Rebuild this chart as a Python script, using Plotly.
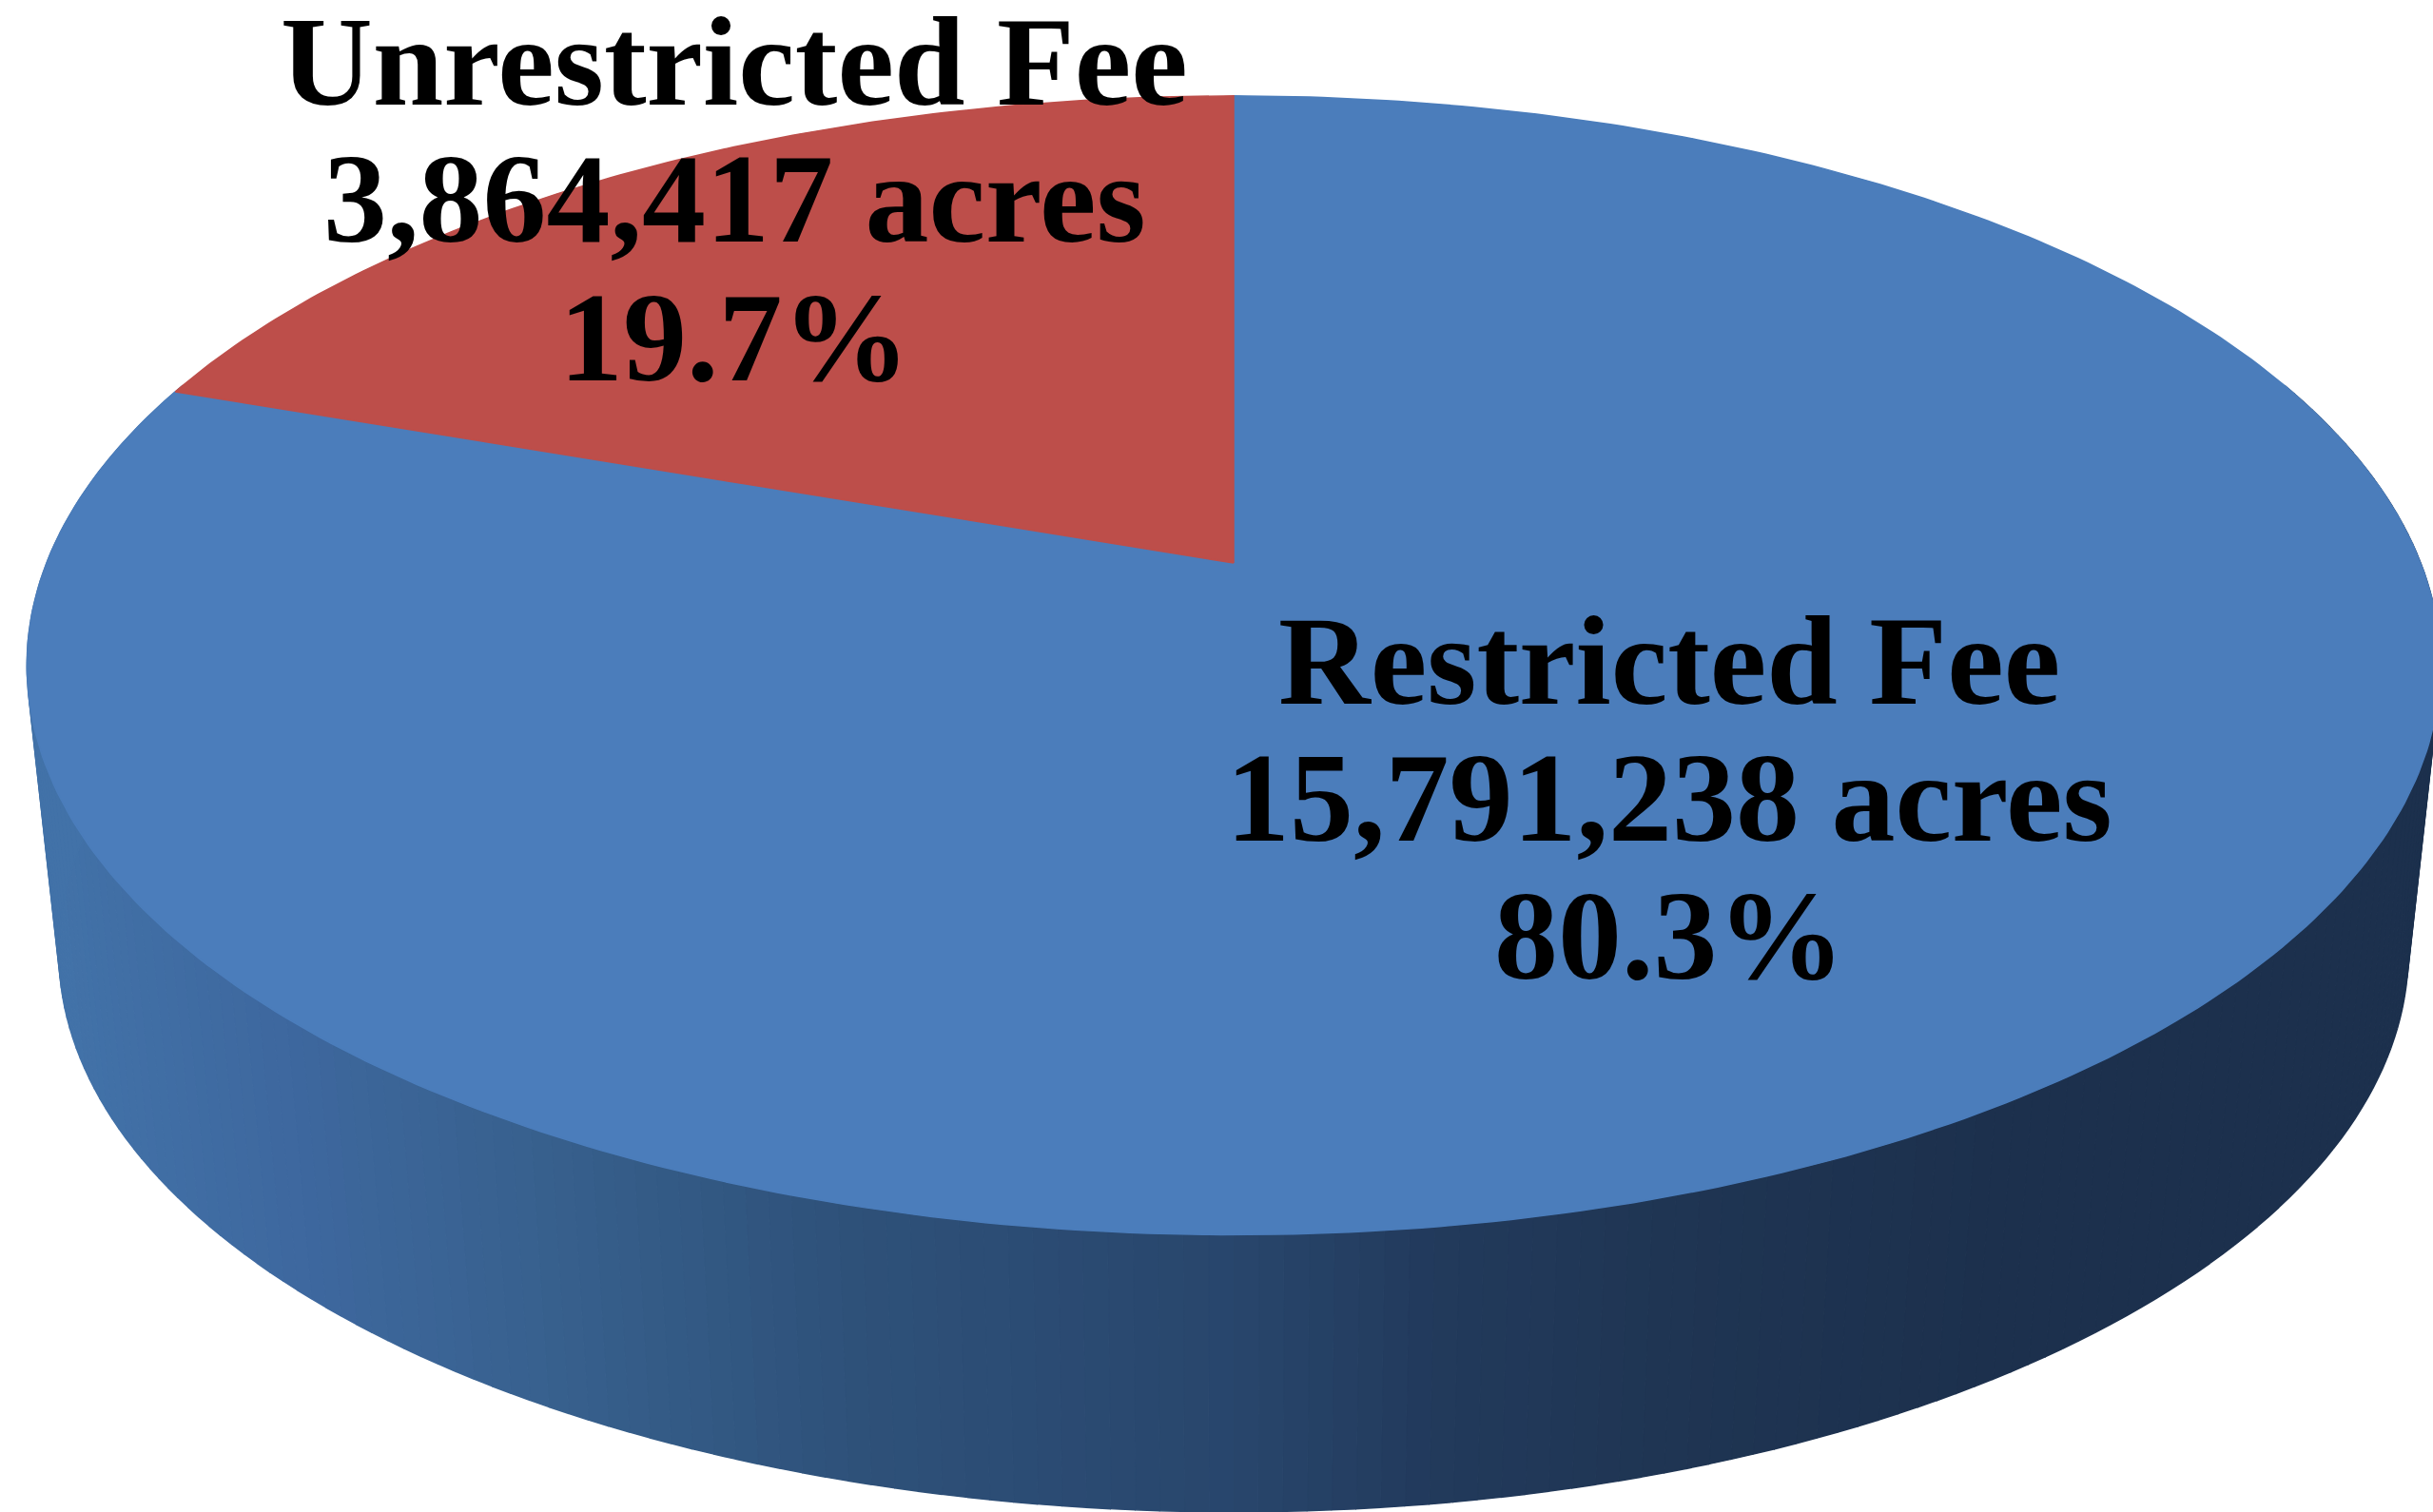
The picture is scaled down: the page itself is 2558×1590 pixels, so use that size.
import numpy as np
import plotly.graph_objects as go

# ---- data ----
categories = ["Restricted Fee", "Unrestricted Fee"]
acres = [15791238, 3864417]
percent_labels = ["80.3%", "19.7%"]
acre_labels = ["15,791,238 acres", "3,864,417 acres"]
slice_colors = ["#4B7DBB", "#BD4E4A"]

# ---- side wall shading, by horizontal page position ----
wall_stop_x = [60, 300, 550, 900, 1100, 1300, 1500, 1750, 2100, 2558]
wall_stop_rgb = [(66, 114, 168), (62, 104, 159), (56, 97, 143), (46, 81, 121), (43, 75, 115),
                 (40, 70, 108), (34, 58, 92), (31, 53, 83), (28, 48, 77), (28, 48, 77)]

W, H = 2558, 1590
CX = 1297
PERSP = 0.1798
TOP = dict(rx=1248, y0=592, a=-473)
LOW = dict(rx=1215, y0=895, a=-409)


def ring(theta, p):
    """theta: clockwise angle from 12 o'clock (radians), projected with perspective."""
    u, v = np.sin(theta), np.cos(theta)
    d = 1 + PERSP * v
    return CX + p["rx"] * u / d, (p["y0"] + p["a"] * v) / d


fig = go.Figure()


def poly(x, y, color):
    fig.add_trace(go.Scatter(x=x, y=y, mode="lines", fill="toself", fillcolor=color,
                             line=dict(color=color, width=1.5), hoverinfo="skip", showlegend=False))


# side wall
edges = np.radians(np.linspace(70, 290, 221))
for t0, t1 in zip(edges[:-1], edges[1:]):
    ts = np.array([t0, t1])
    xt, yt = ring(ts, TOP)
    xl, yl = ring(ts[::-1], LOW)
    xm = float(np.mean(np.r_[xt, xl]))
    rgb = [int(round(np.interp(xm, wall_stop_x, [c[i] for c in wall_stop_rgb]))) for i in range(3)]
    poly(np.r_[xt, xl], np.r_[yt, yl], "rgb(%d,%d,%d)" % tuple(rgb))

# top face, from the values
shares = np.array(acres, dtype=float) / sum(acres)
sweep = shares * 2 * np.pi
cx0, cy0 = CX, TOP["y0"]
t_blue = np.linspace(0, sweep[0], 400)
t_red = np.linspace(sweep[0], 2 * np.pi, 120)
for ts, col in ((t_blue, slice_colors[0]), (t_red, slice_colors[1])):
    x, y = ring(ts, TOP)
    poly(np.r_[cx0, x, cx0], np.r_[cy0, y, cy0], col)

# labels
centres = [1755, 772]
baselines = [[739, 883, 1028], [109, 253, 399]]
FS = 134
for i, c in enumerate(categories):
    lines = [c, acre_labels[i], percent_labels[i]]
    for txt, b in zip(lines, baselines[i]):
        fig.add_annotation(x=centres[i], y=b - FS * 0.33, text=txt, showarrow=False,
                           xanchor="center", yanchor="middle",
                           font=dict(family="Liberation Serif", size=FS, color="black", weight=700))

fig.update_layout(width=W, height=H, autosize=False, margin=dict(l=0, r=0, t=0, b=0),
                  paper_bgcolor="white", plot_bgcolor="white",
                  xaxis=dict(range=[0, W], visible=False),
                  yaxis=dict(range=[H, 0], visible=False))
fig.write_html("out.html", config={"displayModeBar": False},
               post_script="document.body.style.margin='0';document.body.style.overflow='hidden';")
